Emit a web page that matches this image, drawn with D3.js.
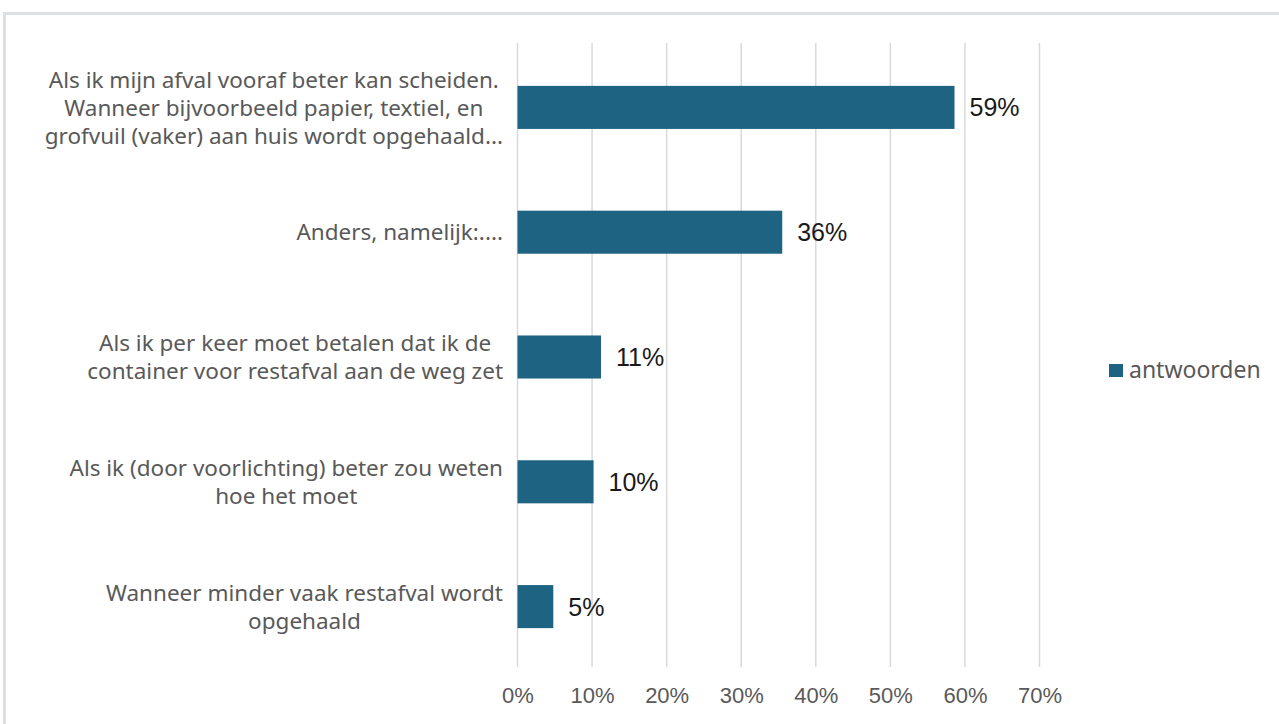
<!doctype html>
<html>
<head>
<meta charset="utf-8">
<script src="https://d3js.org/d3.v7.min.js"></script>
<style>
    body { margin: 0; background: #fff; }
    text { font-family: "Noto Sans", "Open Sans", sans-serif; }
</style>
</head>
<body>
<svg width="1279" height="724"></svg>
<script>

    // categories (label lines) and answer share in %
    var categories = [
        ["Als ik mijn afval vooraf beter kan scheiden.", "Wanneer bijvoorbeeld papier, textiel, en", "grofvuil (vaker) aan huis wordt opgehaald..."],
        ["Anders, namelijk:...."],
        ["Als ik per keer moet betalen dat ik de", "container voor restafval aan de weg zet"],
        ["Als ik (door voorlichting) beter zou weten", "hoe het moet"],
        ["Wanneer minder vaak restafval wordt", "opgehaald"]
    ];
    var values = [58.6, 35.5, 11.2, 10.2, 4.8];
    var ticks = [0, 10, 20, 30, 40, 50, 60, 70];
    var seriesName = "antwoorden";

    var svg = d3.select("svg");
    var barColor = "#1f6383";
    var numFont = "'Liberation Sans', Arial, sans-serif";

    // outer frame
    svg.append("rect")
       .attr("x", 4.5).attr("y", 13.5)
       .attr("width", 1400).attr("height", 900)
       .attr("fill", "none")
       .attr("stroke", "#dcdfe3")
       .attr("stroke-width", 3);

    var x = d3.scaleLinear().domain([0, 70]).range([517.5, 1039.5]);
    var y = d3.scaleBand()
              .domain(d3.range(categories.length))
              .range([45, 669])
              .paddingInner(0.655)
              .paddingOuter(0.3275);

    // gridlines
    svg.append("g")
       .selectAll("line")
       .data(ticks)
       .enter().append("line")
       .attr("x1", function(d) { return x(d); })
       .attr("x2", function(d) { return x(d); })
       .attr("y1", 43)
       .attr("y2", 667)
       .attr("stroke", "#d9d9d9")
       .attr("stroke-width", 1.5);

    // x axis tick labels
    var xAxis = svg.append("g")
       .attr("transform", "translate(0,667)")
       .call(d3.axisBottom(x).tickValues(ticks).tickSize(0).tickPadding(20)
               .tickFormat(function(d) { return d + "%"; }));
    xAxis.select(".domain").remove();
    xAxis.selectAll("text")
         .style("font-family", numFont)
         .style("font-size", "22px")
         .attr("fill", "#595959");

    // bars
    svg.selectAll(".bar")
       .data(values)
       .enter().append("rect")
       .attr("class", "bar")
       .attr("x", x(0))
       .attr("y", function(d, i) { return y(i); })
       .attr("width", function(d) { return x(d) - x(0); })
       .attr("height", y.bandwidth())
       .attr("fill", barColor);

    // data labels
    svg.selectAll(".val")
       .data(values)
       .enter().append("text")
       .attr("class", "val")
       .attr("x", function(d) { return x(d) + 15; })
       .attr("y", function(d, i) { return y(i) + y.bandwidth() / 2; })
       .attr("dy", "0.36em")
       .style("font-family", numFont)
       .style("font-size", "25px")
       .attr("fill", "#1a1a1a")
       .text(function(d) { return Math.round(d) + "%"; });

    // category labels: lines centred, block right-aligned
    var lineH = 28, rightEdge = 503;
    categories.forEach(function(lines, i) {
        var g = svg.append("g");
        var cy = y(i) + y.bandwidth() / 2;
        var t = g.selectAll("text")
           .data(lines)
           .enter().append("text")
           .style("font-size", "22.5px")
           .attr("fill", "#595959")
           .attr("text-anchor", "middle")
           .attr("y", function(d, j) { return cy + (j - (lines.length - 1) / 2) * lineH; })
           .attr("dy", "0.36em")
           .text(function(d) { return d; });
        var w = d3.max(t.nodes(), function(n) { return n.getComputedTextLength(); });
        t.attr("x", rightEdge - w / 2);
    });

    // legend
    svg.append("rect")
       .attr("x", 1109).attr("y", 364)
       .attr("width", 14).attr("height", 13)
       .attr("fill", barColor);
    svg.append("text")
       .attr("x", 1129).attr("y", 370)
       .attr("dy", "0.36em")
       .style("font-size", "23px")
       .attr("fill", "#595959")
       .text(seriesName);
</script>
</body>
</html>
